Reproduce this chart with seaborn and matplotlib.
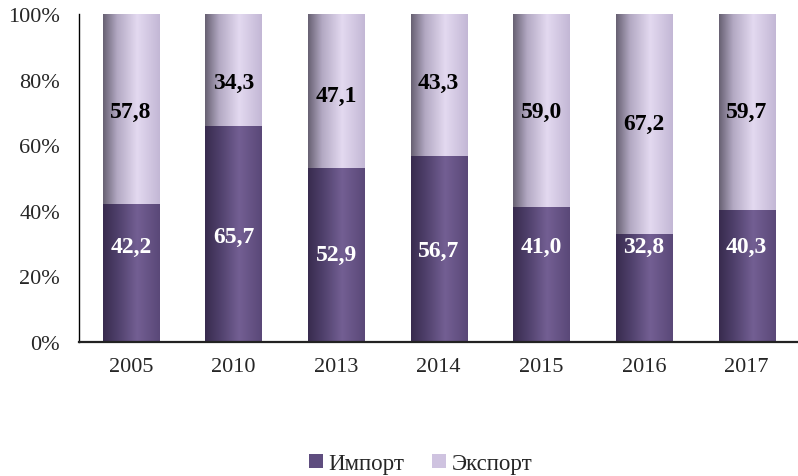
import numpy as np
import pandas as pd
import matplotlib
matplotlib.use("Agg")
import matplotlib.pyplot as plt
from matplotlib.colors import LinearSegmentedColormap
from matplotlib.patches import Patch
import seaborn as sns

# ---- data ----
years = ["2005", "2010", "2013", "2014", "2015", "2016", "2017"]
import_share = [42.2, 65.7, 52.9, 56.7, 41.0, 32.8, 40.3]
export_share = [57.8, 34.3, 47.1, 43.3, 59.0, 67.2, 59.7]
series_names = ["Импорт", "Экспорт"]
y_ticks = [0, 20, 40, 60, 80, 100]

# ---- layout (label positions in % of axis) ----
import_label_y = [29.0, 32.3, 26.8, 28.0, 29.0, 29.0, 29.0]
export_label_y = [70.4, 79.0, 75.3, 79.0, 70.4, 66.5, 70.4]

sns.set_theme(style="white")
plt.rcParams["font.family"] = ["Liberation Serif", "DejaVu Serif"]

imp_color = "#5f4d7f"
exp_color = "#cfc3e0"
imp_cmap = LinearSegmentedColormap.from_list(
    "imp", [(0.0, "#382b4e"), (0.25, "#4e3f6a"), (0.6, "#735f93"), (1.0, "#5a4878")])
exp_cmap = LinearSegmentedColormap.from_list(
    "exp", [(0.0, "#676072"), (0.25, "#b3a9c3"), (0.6, "#e3d9f0"), (1.0, "#c3b7d5")])

df = pd.DataFrame({
    "year": years,
    "import": import_share,
    "total": [a + b for a, b in zip(import_share, export_share)],
})

fig = plt.figure(figsize=(7.98, 4.77), dpi=100)
ax = fig.add_axes([0.0996, 0.281, 0.9004, 0.6876])

bw = 0.546
sns.barplot(data=df, x="year", y="total", color=exp_color, saturation=1,
            width=bw, ax=ax, errorbar=None, linewidth=0)
n = len(years)
sns.barplot(data=df, x="year", y="import", color=imp_color, saturation=1,
            width=bw, ax=ax, errorbar=None, linewidth=0)

# gradient overlay clipped to each bar
grad = np.linspace(0, 1, 256).reshape(1, -1)
for i, p in enumerate(list(ax.patches)):
    cmap = exp_cmap if i < n else imp_cmap
    x0, y0 = p.get_x(), p.get_y()
    w, h = p.get_width(), p.get_height()
    im = ax.imshow(grad, cmap=cmap, aspect="auto", extent=(x0, x0 + w, y0, y0 + h),
                   zorder=p.get_zorder() + 0.1 + (0.5 if i >= n else 0), interpolation="bicubic")
    im.set_clip_path(p)

ax.set_xlim(-0.5, n - 0.5)
ax.set_ylim(0, 100)

# labels
for i in range(n):
    ax.text(i, import_label_y[i], f"{import_share[i]:.1f}".replace(".", ","),
            ha="center", va="center", color="white", fontsize=17, fontweight="bold", zorder=5)
    ax.text(i, export_label_y[i], f"{export_share[i]:.1f}".replace(".", ","),
            ha="center", va="center", color="black", fontsize=17, fontweight="bold", zorder=5)

ax.set_yticks(y_ticks)
ax.set_yticklabels([f"{t}%" for t in y_ticks], fontsize=16)
ax.set_xticks(range(n))
ax.set_xticklabels(years, fontsize=16)
ax.set_xticks(np.arange(-0.5, n, 1.0), minor=True)
ax.tick_params(axis="x", which="major", length=0, pad=11)
ax.tick_params(axis="x", which="minor", length=6, width=1, direction="out", color="black")
ax.tick_params(axis="y", length=6, width=1, direction="out", color="black", pad=8)
ax.set_xlabel("")
ax.set_ylabel("")

for s in ["top", "right"]:
    ax.spines[s].set_visible(False)
ax.spines["left"].set_color("black")
ax.spines["left"].set_linewidth(1)
ax.spines["bottom"].set_color("#222222")
ax.spines["bottom"].set_linewidth(1.6)
ax.spines["bottom"].set_zorder(10)

handles = [Patch(facecolor=imp_color, edgecolor="none"),
           Patch(facecolor=exp_color, edgecolor="none")]
fig.legend(handles, series_names, loc="center", bbox_to_anchor=(0.527, 0.026),
           ncol=2, frameon=False, fontsize=16.5, handlelength=0.6, handleheight=0.6,
           handletextpad=0.25, columnspacing=1.2)

fig.savefig("out.png", dpi=100)
